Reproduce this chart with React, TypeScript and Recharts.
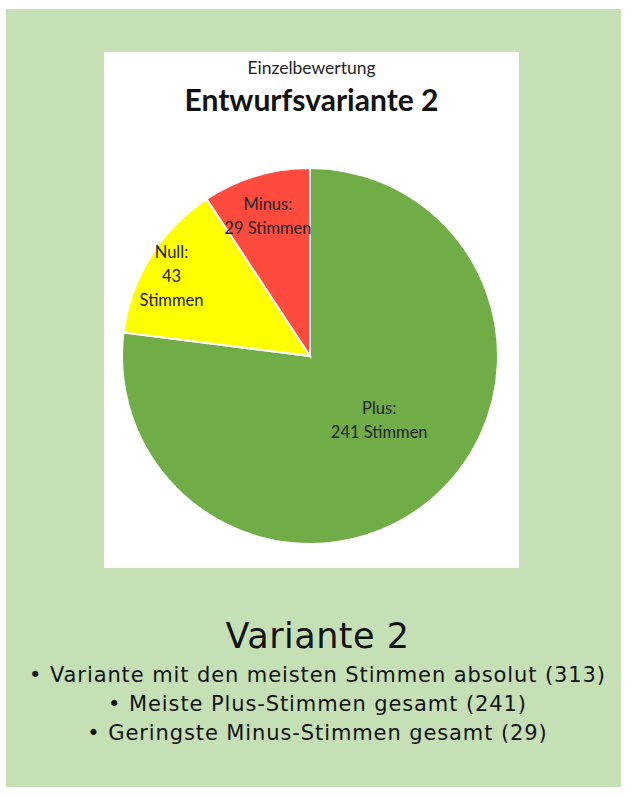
import React from "react";
import { PieChart, Pie, Cell } from "recharts";

const categories = ["Plus", "Null", "Minus"];
const votes = [241, 43, 29];
const labelLines = [
  ["Plus:", "241 Stimmen"],
  ["Null:", "43", "Stimmen"],
  ["Minus:", "29 Stimmen"],
];
const bullets = [
  "Variante mit den meisten Stimmen absolut (313)",
  "Meiste Plus-Stimmen gesamt (241)",
  "Geringste Minus-Stimmen gesamt (29)",
];

const COLORS = ["#70AD47", "#FFFF00", "#FF4B3E"];
// label placement: distance from centre (fraction of radius) and angle nudge
const LABEL_RADIUS = [0.5, 0.85, 0.78];
const LABEL_ANGLE_SHIFT = [6, 2, 0];

const RADIAN = Math.PI / 180;

const data = categories.map((name, i) => ({ name, value: votes[i] }));

function renderLabel(props: any) {
  const { cx, cy, midAngle, outerRadius, index } = props;
  const r = outerRadius * LABEL_RADIUS[index];
  const a = midAngle + LABEL_ANGLE_SHIFT[index];
  const x = cx + r * Math.cos(-a * RADIAN);
  const y = cy + r * Math.sin(-a * RADIAN);
  const lines = labelLines[index];
  const lh = 24;
  const top = y - ((lines.length - 1) * lh) / 2;
  return (
    <text
      x={x}
      y={top}
      textAnchor="middle"
      dominantBaseline="central"
      fill="#222"
      fontSize={16.5}
      fontFamily="Lato, sans-serif"
    >
      {lines.map((l, k) => (
        <tspan key={k} x={x} y={top + k * lh}>
          {l}
        </tspan>
      ))}
    </text>
  );
}

export default function App() {
  return (
    <div
      style={{
        position: "absolute",
        left: 0,
        top: 0,
        width: 631,
        height: 797,
        background: "#fff",
      }}
    >
      <div
        style={{
          position: "absolute",
          left: 6,
          top: 9,
          width: 615,
          height: 778,
          background: "#C5E0B4",
        }}
      >
        <div
          style={{
            position: "absolute",
            left: 98,
            top: 43,
            width: 415,
            height: 516,
            background: "#fff",
          }}
        >
          <div
            style={{
              position: "absolute",
              top: 5,
              width: "100%",
              textAlign: "center",
              fontFamily: "Lato, sans-serif",
              fontSize: 17.5,
              color: "#222",
            }}
          >
            Einzelbewertung
          </div>
          <div
            style={{
              position: "absolute",
              top: 29,
              width: "100%",
              textAlign: "center",
              fontFamily: "Lato, sans-serif",
              fontWeight: 700,
              fontSize: 30,
              color: "#111",
            }}
          >
            Entwurfsvariante 2
          </div>
          <div style={{ position: "absolute", left: 0, top: 0 }}>
            <PieChart width={415} height={516}>
              <Pie
                data={data}
                dataKey="value"
                nameKey="name"
                cx={201}
                cy={299}
                outerRadius={188}
                startAngle={90}
                endAngle={-270}
                stroke="#fff"
                strokeWidth={2}
                label={renderLabel}
                labelLine={false}
                isAnimationActive={false}
              >
                {data.map((d, i) => (
                  <Cell key={d.name} fill={COLORS[i]} />
                ))}
              </Pie>
            </PieChart>
          </div>
        </div>
        <div
          style={{
            position: "absolute",
            top: 602,
            width: "100%",
            textAlign: "center",
            fontFamily: "'DejaVu Sans', sans-serif",
            color: "#111",
          }}
        >
          <div style={{ fontSize: 35, lineHeight: "50px", marginLeft: 8, letterSpacing: 0.5 }}>
            Variante 2
          </div>
          {bullets.map((b) => (
            <div
              key={b}
              style={{ fontSize: 21, lineHeight: "29px", marginLeft: 8, letterSpacing: 0.9 }}
            >
              • {b}
            </div>
          ))}
        </div>
      </div>
    </div>
  );
}
